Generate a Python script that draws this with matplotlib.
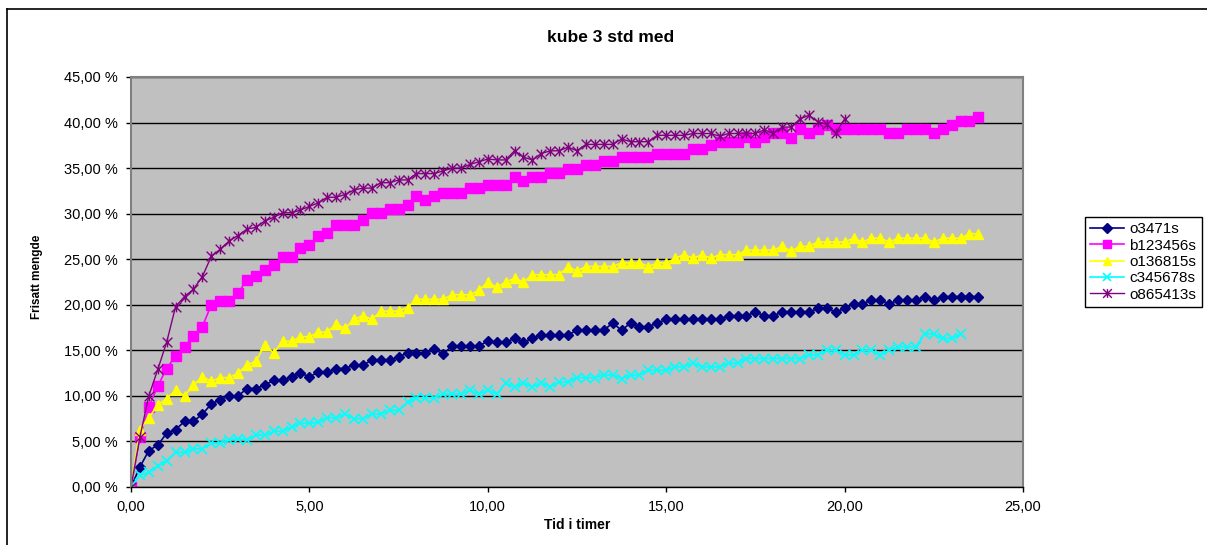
import numpy as np
import matplotlib
matplotlib.use("Agg")
import matplotlib.pyplot as plt
from matplotlib.path import Path
from matplotlib.ticker import FuncFormatter, MultipleLocator

plt.rcParams["font.family"] = ["Liberation Sans", "DejaVu Sans"]

# Released amount (%) sampled every quarter hour
sample_step_h = 0.25

o3471s = [0, 2.2, 4.0, 4.6, 5.9, 6.3, 7.2, 7.2, 8.0, 9.1, 9.6, 10.0, 10.0, 10.8, 10.8, 11.2, 11.7, 11.7, 12.1, 12.5, 12.1,
          12.6, 12.6, 13.0, 13.0, 13.4, 13.4, 13.9, 13.9, 13.9, 14.3, 14.7, 14.7, 14.7, 15.1, 14.6, 15.5, 15.5, 15.5, 15.5, 16.0,
          15.9, 15.9, 16.3, 15.9, 16.3, 16.7, 16.7, 16.7, 16.7, 17.2, 17.2, 17.2, 17.2, 18.0, 17.2, 18.0, 17.6, 17.6, 18.0, 18.4,
          18.4, 18.4, 18.4, 18.4, 18.4, 18.4, 18.8, 18.8, 18.8, 19.2, 18.8, 18.8, 19.2, 19.2, 19.2, 19.2, 19.6, 19.6, 19.2, 19.6,
          20.1, 20.1, 20.5, 20.5, 20.1, 20.5, 20.5, 20.5, 20.9, 20.5, 20.9, 20.9, 20.9, 20.9, 20.9]

b123456s = [0, 5.5, 8.8, 11.1, 13.0, 14.4, 15.4, 16.6, 17.6, 20.0, 20.4, 20.4, 21.3, 22.7, 23.2, 23.8, 24.4, 25.2, 25.2, 26.2, 26.6,
            27.5, 27.9, 28.8, 28.8, 28.8, 29.3, 30.1, 30.1, 30.5, 30.5, 31.0, 31.9, 31.5, 31.9, 32.3, 32.3, 32.3, 32.8, 32.8, 33.2,
            33.1, 33.1, 34.0, 33.6, 34.0, 34.0, 34.5, 34.5, 34.9, 34.9, 35.3, 35.3, 35.8, 35.8, 36.2, 36.2, 36.2, 36.2, 36.6, 36.6,
            36.6, 36.6, 37.1, 37.1, 37.5, 37.9, 37.9, 37.9, 38.4, 37.9, 38.4, 38.8, 38.8, 38.3, 39.3, 38.8, 39.3, 39.7, 39.3, 39.3,
            39.3, 39.3, 39.3, 39.3, 38.8, 38.8, 39.3, 39.3, 39.3, 38.8, 39.3, 39.7, 40.2, 40.2, 40.6]

o136815s = [0, 6.3, 7.6, 9.0, 9.7, 10.6, 10.0, 11.2, 12.1, 11.6, 12.0, 12.0, 12.5, 13.4, 13.8, 15.6, 14.7, 16.0, 16.0, 16.5, 16.5,
            17.0, 17.0, 17.9, 17.4, 18.4, 18.8, 18.4, 19.3, 19.3, 19.3, 19.7, 20.6, 20.6, 20.6, 20.6, 21.1, 21.1, 21.1, 21.6, 22.5,
            21.9, 22.5, 22.9, 22.5, 23.3, 23.3, 23.3, 23.3, 24.2, 23.7, 24.2, 24.2, 24.2, 24.2, 24.6, 24.6, 24.6, 24.2, 24.6, 24.6,
            25.1, 25.5, 25.1, 25.5, 25.1, 25.5, 25.5, 25.5, 26.0, 26.0, 26.0, 26.0, 26.4, 25.9, 26.4, 26.4, 26.9, 26.9, 26.9, 26.9,
            27.3, 26.9, 27.3, 27.3, 26.9, 27.3, 27.3, 27.3, 27.3, 26.9, 27.3, 27.3, 27.3, 27.8, 27.8]

c345678s = [0, 1.3, 1.6, 2.3, 2.9, 3.8, 3.8, 4.2, 4.2, 4.8, 4.8, 5.2, 5.3, 5.2, 5.7, 5.7, 6.1, 6.1, 6.6, 7.0, 7.0,
            7.1, 7.6, 7.6, 8.0, 7.5, 7.5, 8.0, 8.0, 8.4, 8.4, 9.3, 9.8, 9.8, 9.8, 10.2, 10.2, 10.2, 10.6, 10.2, 10.6,
            10.2, 11.4, 11.0, 11.4, 11.0, 11.4, 11.0, 11.5, 11.5, 12.0, 12.0, 12.0, 12.3, 12.3, 11.9, 12.3, 12.3, 12.8, 12.8, 12.8,
            13.2, 13.2, 13.6, 13.2, 13.2, 13.2, 13.6, 13.6, 14.1, 14.1, 14.1, 14.1, 14.1, 14.1, 14.1, 14.5, 14.5, 15.0, 15.0, 14.5,
            14.5, 15.0, 15.0, 14.5, 15.0, 15.4, 15.4, 15.4, 16.8, 16.8, 16.3, 16.3, 16.8]

o865413s = [0, 5.5, 10.0, 12.9, 15.9, 19.8, 20.9, 21.7, 23.1, 25.3, 26.1, 27.0, 27.6, 28.3, 28.5, 29.2, 29.6, 30.1, 30.1, 30.4, 30.8,
            31.2, 31.8, 31.8, 32.1, 32.6, 32.8, 32.8, 33.4, 33.4, 33.7, 33.7, 34.4, 34.4, 34.4, 34.7, 35.0, 35.0, 35.4, 35.7, 36.0,
            35.9, 35.9, 36.9, 36.2, 35.9, 36.6, 36.9, 36.9, 37.3, 36.9, 37.6, 37.6, 37.6, 37.6, 38.2, 37.9, 37.9, 37.9, 38.6, 38.6,
            38.6, 38.6, 38.8, 38.8, 38.8, 38.5, 38.8, 38.8, 38.8, 38.8, 39.2, 38.8, 39.5, 39.5, 40.4, 40.8, 40.1, 39.8, 38.8, 40.4]

series_names = ["o3471s", "b123456s", "o136815s", "c345678s", "o865413s"]
series_values = [o3471s, b123456s, o136815s, c345678s, o865413s]

# Excel-style star marker: an X with a vertical stroke
star_path = Path([(-1, -1), (1, 1), (-1, 1), (1, -1), (0, -1), (0, 1)],
                 [Path.MOVETO, Path.LINETO, Path.MOVETO, Path.LINETO, Path.MOVETO, Path.LINETO])

styles = [
    dict(color="#000080", marker="D", markersize=5.2, mec="#000080", mfc="#000080", lw=1.2),
    dict(color="#FF00FF", marker="s", markersize=6.5, mec="#FF00FF", mfc="#FF00FF", lw=1.2),
    dict(color="#FFFF00", marker="^", markersize=7, mec="#FFFF00", mfc="#FFFF00", lw=1.2),
    dict(color="#00FFFF", marker="x", markersize=6.5, mec="#00FFFF", mew=1.2, lw=1.2),
    dict(color="#800080", marker=star_path, markersize=7, mec="#800080", mfc="none", mew=1.0, lw=1.0),
]

W, H = 1207, 545
fig = plt.figure(figsize=(W / 100, H / 100), dpi=100)
fig.patch.set_facecolor("white")

# partial frame around the chart area
fig.add_artist(plt.Line2D([7 / W, 7 / W], [0, 1 - 9 / H], color="black", lw=1.2, transform=fig.transFigure))
fig.add_artist(plt.Line2D([7 / W, 1], [1 - 9 / H, 1 - 9 / H], color="black", lw=1.2, transform=fig.transFigure))

left, right, top, bottom = 131, 1023, 77, 487
ax = fig.add_axes([left / W, 1 - bottom / H, (right - left) / W, (bottom - top) / H])
ax.set_facecolor("#C0C0C0")

for name, vals, st in zip(series_names, series_values, styles):
    hours = np.arange(len(vals)) * sample_step_h
    ax.plot(hours, vals, label=name, **st)

ax.set_xlim(0, 25)
ax.set_ylim(0, 45)
ax.xaxis.set_major_locator(MultipleLocator(5))
ax.yaxis.set_major_locator(MultipleLocator(5))
ax.xaxis.set_major_formatter(FuncFormatter(lambda v, p: f"{v:.2f}".replace(".", ",")))
ax.yaxis.set_major_formatter(FuncFormatter(lambda v, p: f"{v:.2f} %".replace(".", ",")))
ax.grid(axis="y", color="black", lw=1.0)
ax.set_axisbelow(True)

for s in ["top", "right", "left"]:
    ax.spines[s].set_color("#808080")
    ax.spines[s].set_linewidth(1.5)
ax.spines["bottom"].set_color("black")
ax.spines["bottom"].set_linewidth(1.0)

ax.tick_params(axis="both", direction="out", length=3.6, width=1, color="black", labelsize=10.5)
ax.tick_params(axis="y", pad=6)
ax.tick_params(axis="x", pad=6)

ax.set_xlabel("Tid i timer", fontsize=10, fontweight="bold")
ax.xaxis.set_label_coords(0.5, (487 - 525) / 410, transform=ax.transAxes)
ax.xaxis.label.set_va("center")
ax.set_ylabel("Frisatt mengde", fontsize=8.5, fontweight="bold",
              family=["Liberation Sans Narrow", "Liberation Sans"])
ax.yaxis.set_label_coords((37 - 131) / 892, (487 - 277) / 410, transform=ax.transAxes)
ax.yaxis.label.set_va("center")
fig.suptitle("kube 3 std med", x=611 / W, y=1 - 37 / H, va="center", fontsize=12.5, fontweight="bold")

leg = ax.legend(loc="upper left", bbox_to_anchor=(1085 / W, 1 - 217 / H), bbox_transform=fig.transFigure,
                fancybox=False, edgecolor="black", framealpha=1, borderaxespad=0, fontsize=11,
                handlelength=2.2, handletextpad=0.35, labelspacing=0.15, borderpad=0.35, markerscale=0.9)
leg.get_frame().set_linewidth(1.0)

fig.savefig("out.png", dpi=100)
